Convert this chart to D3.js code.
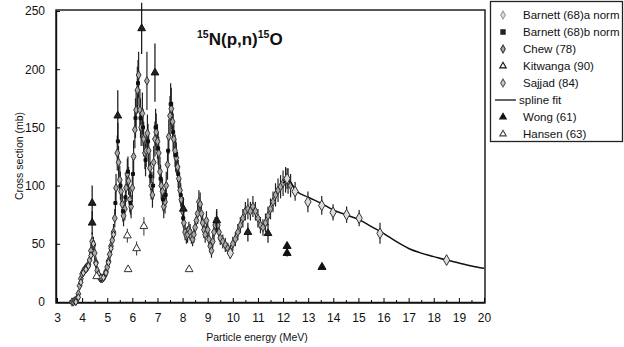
<!DOCTYPE html>
<html>
<head>
<meta charset="utf-8">
<script src="https://cdn.jsdelivr.net/npm/d3@7"></script>
<style>
  body { margin: 0; background: #fff; }
  text { font-family: "Liberation Sans", Arial, sans-serif; fill: #111; }
</style>
</head>
<body>
<svg id="chart" width="624" height="347"></svg>
<script>
// values: [energy (MeV), cross section (mb), error (mb)]
const barnettA = [
  [3.60, 0, 1], [3.65, 0, 1], [3.70, 1, 1], [3.75, 1, 1], [3.80, 3, 2], [3.85, 7, 3],
  [3.90, 14, 4], [3.95, 20, 4], [4.00, 24, 4], [4.05, 26, 4], [4.10, 28, 4], [4.15, 29, 4],
  [4.20, 30, 4], [4.25, 32, 5], [4.30, 36, 5], [4.35, 44, 6], [4.40, 52, 8], [4.45, 49, 7],
  [4.50, 42, 6], [4.55, 34, 5], [4.60, 27, 4], [4.65, 23, 4], [4.70, 21, 3], [4.75, 20, 3],
  [4.80, 20, 3], [4.85, 21, 3], [4.90, 23, 4], [4.95, 26, 4], [5.00, 30, 4], [5.05, 35, 5],
  [5.10, 41, 5], [5.15, 48, 6], [5.20, 53, 6], [5.25, 60, 7], [5.30, 72, 8], [5.35, 98, 12],
  [5.40, 128, 15], [5.45, 120, 14], [5.50, 105, 12], [5.55, 95, 11], [5.60, 84, 10], [5.65, 74, 9],
  [5.70, 80, 10], [5.75, 98, 12], [5.80, 110, 13], [5.85, 104, 12], [5.90, 88, 11], [5.95, 82, 10],
  [6.00, 98, 12], [6.05, 125, 14], [6.10, 148, 16], [6.15, 165, 18], [6.20, 182, 20], [6.25, 195, 20],
  [6.30, 165, 18], [6.35, 150, 16], [6.40, 162, 18], [6.45, 140, 15], [6.50, 128, 14], [6.55, 130, 14],
  [6.60, 145, 16], [6.65, 130, 14], [6.70, 115, 13], [6.75, 100, 12], [6.80, 92, 11], [6.85, 120, 14],
  [6.90, 140, 15], [6.95, 146, 16], [7.00, 138, 15], [7.05, 128, 14], [7.10, 112, 13], [7.15, 100, 12],
  [7.20, 95, 11], [7.25, 82, 10], [7.30, 86, 10], [7.35, 100, 12], [7.40, 118, 13], [7.45, 142, 15],
  [7.50, 160, 17], [7.55, 166, 18], [7.60, 155, 17], [7.65, 140, 15], [7.70, 130, 14], [7.75, 124, 13],
  [7.80, 116, 13], [7.85, 106, 12], [7.90, 96, 11], [7.95, 88, 10], [8.00, 78, 9], [8.05, 68, 8],
  [8.10, 60, 7], [8.15, 57, 7], [8.20, 58, 7], [8.25, 62, 7], [8.30, 60, 7], [8.35, 56, 6],
  [8.40, 54, 6], [8.45, 58, 7], [8.50, 64, 7], [8.55, 70, 8], [8.60, 76, 9], [8.65, 86, 10],
  [8.70, 84, 10], [8.75, 76, 9], [8.80, 68, 8], [8.85, 62, 7], [8.90, 58, 7], [8.95, 70, 8],
  [9.00, 62, 7], [9.05, 54, 6], [9.10, 48, 6], [9.15, 44, 6], [9.20, 52, 6], [9.25, 60, 7],
  [9.30, 66, 7], [9.35, 70, 8], [9.40, 66, 7], [9.45, 60, 7], [9.50, 55, 6], [9.60, 52, 6],
  [9.70, 49, 6], [9.80, 46, 5], [9.90, 44, 5], [10.00, 50, 6], [10.10, 54, 6], [10.20, 60, 7],
  [10.30, 66, 7], [10.40, 72, 8], [10.50, 78, 8], [10.60, 80, 9], [10.70, 78, 8], [10.80, 82, 9],
  [10.90, 78, 8], [11.00, 72, 8], [11.10, 66, 7], [11.20, 64, 7], [11.30, 68, 8], [11.40, 74, 8],
  [11.50, 80, 9], [11.60, 86, 9], [11.70, 92, 10], [11.80, 96, 10], [11.90, 99, 10], [12.00, 102, 11],
  [12.10, 105, 11], [12.20, 104, 11], [12.30, 100, 10], [6.58, 190, 25]
];
const barnettB = [
  [5.325, 85, 10], [5.425, 138, 16], [5.525, 100, 12], [5.625, 78, 9], [5.725, 90, 11], [5.825, 112, 13],
  [5.925, 85, 10], [6.025, 110, 13], [6.125, 158, 17], [6.225, 188, 20], [6.325, 158, 17], [6.425, 150, 16],
  [6.525, 122, 14], [6.625, 138, 15], [6.725, 108, 12], [6.825, 100, 12], [6.925, 150, 16], [7.025, 132, 14],
  [7.125, 106, 12], [7.225, 88, 10], [7.325, 92, 11], [7.425, 130, 14], [7.525, 170, 18], [7.625, 146, 16],
  [7.725, 126, 14], [7.825, 110, 12], [7.925, 92, 10], [8.025, 72, 8]
];
const chew = [
  [3.75, 0, 2], [3.85, 4, 2], [3.95, 17, 3], [4.05, 25, 3], [4.15, 28, 3], [4.25, 31, 3],
  [4.35, 40, 4], [4.45, 50, 5], [4.55, 33, 4], [4.65, 24, 3], [4.75, 21, 3], [4.85, 21, 3],
  [4.95, 25, 3], [5.05, 34, 4], [5.15, 46, 5], [5.25, 58, 6]
];
const kitwanga = [
  [4.40, 85, 15], [4.40, 68, 10], [5.42, 160, 22], [6.37, 235, 22], [6.90, 197, 25],
  [8.03, 80, 10], [9.36, 70, 10], [10.60, 60, 8], [11.40, 59, 8]
];
const sajjad = [
  [9.90, 42, 5], [12.16, 106, 9], [12.48, 95, 8], [12.99, 86, 9], [13.54, 83, 8],
  [13.99, 77, 7], [14.53, 75, 7], [15.03, 72, 7], [15.86, 59, 9], [18.51, 36, 4]
];
const splineFit = [
  [12.0, 102], [12.2, 105], [12.5, 96], [13.0, 90], [13.5, 85], [14.0, 79], [14.5, 75],
  [15.0, 71], [15.5, 65], [16.0, 59], [16.5, 52], [17.0, 46], [17.5, 42], [18.0, 39],
  [18.5, 36], [19.0, 33.5], [19.5, 31], [20.0, 29]
];
const wong = [[12.16, 48, 3], [12.16, 42, 3], [13.55, 30, 0]];
const hansen = [[4.58, 22, 0], [5.83, 28, 0], [5.80, 57, 6], [6.17, 46, 6], [6.46, 65, 8], [8.26, 28, 0]];

const xTicks = [3, 4, 5, 6, 7, 8, 9, 10, 11, 12, 13, 14, 15, 16, 17, 18, 19, 20];
const yTicks = [0, 50, 100, 150, 200, 250];
const legendNames = ['Barnett (68)a norm', 'Barnett (68)b norm', 'Chew (78)', 'Kitwanga (90)',
  'Sajjad (84)', 'spline fit', 'Wong (61)', 'Hansen (63)'];

const svg = d3.select('#chart');
const x = d3.scaleLinear().domain([3, 20]).range([57, 484]);
const y = d3.scaleLinear().domain([0, 250]).range([302, 11]);

// frame
svg.append('rect').attr('x', 56).attr('y', 10).attr('width', 429).attr('height', 293)
  .attr('fill', 'none').attr('stroke', '#111').attr('stroke-width', 1.4);

// axes (ticks point inward)
const xAxis = svg.append('g').attr('transform', 'translate(0,302)')
  .call(d3.axisBottom(x).tickValues(xTicks).tickSizeInner(-4).tickSizeOuter(0).tickPadding(11));
svg.append('g').attr('transform', 'translate(0,302)')
  .call(d3.axisBottom(x).tickValues(d3.range(3.5, 20, 1)).tickFormat('').tickSizeInner(-2).tickSizeOuter(0))
  .select('.domain').remove();
const yAxis = svg.append('g').attr('transform', 'translate(56,0)')
  .call(d3.axisLeft(y).tickValues(yTicks).tickSizeInner(-4).tickSizeOuter(0).tickPadding(11));
[xAxis, yAxis].forEach(a => {
  a.select('.domain').attr('stroke', '#111').attr('stroke-width', 1.4);
  a.selectAll('text').attr('font-size', 12).attr('font-family', '"Liberation Sans", Arial, sans-serif').attr('fill', '#111');
});

svg.append('text').attr('x', 257).attr('y', 341).attr('text-anchor', 'middle')
  .attr('font-size', 10.5).text('Particle energy (MeV)');
svg.append('text').attr('transform', 'translate(23,156) rotate(-90)').attr('text-anchor', 'middle')
  .attr('font-size', 10.5).text('Cross section (mb)');

// title with superscripts
const title = svg.append('text').attr('x', 197).attr('y', 45).attr('font-size', 17).attr('font-weight', 'bold');
title.append('tspan').attr('font-size', 10.5).attr('dy', -7).text('15');
title.append('tspan').attr('dy', 7).text('N(p,n)');
title.append('tspan').attr('font-size', 10.5).attr('dy', -7).text('15');
title.append('tspan').attr('dy', 7).text('O');

const plot = svg.append('g');

function errorBars(data, color, w) {
  plot.append('g').selectAll('line').data(data.filter(d => d[2] > 0)).join('line')
    .attr('x1', d => x(d[0])).attr('x2', d => x(d[0]))
    .attr('y1', d => y(d[1] - d[2])).attr('y2', d => y(d[1] + d[2]))
    .attr('stroke', color).attr('stroke-width', w || 1);
}
function markers(data, type, size, fill, stroke) {
  plot.append('g').selectAll('path').data(data).join('path')
    .attr('transform', d => `translate(${x(d[0])},${y(d[1])})`)
    .attr('d', d3.symbol().type(type).size(size))
    .attr('fill', fill).attr('stroke', stroke).attr('stroke-width', 1);
}

errorBars(barnettA, '#222', 1.2);
errorBars(barnettB, '#222', 1.2);
errorBars(chew, '#222');
markers(barnettA, d3.symbolDiamond, 20, '#aaa', '#333');
markers(barnettB, d3.symbolSquare, 9, '#111', '#111');
markers(chew, d3.symbolDiamond, 16, '#ccc', '#222');

plot.append('path').datum(splineFit)
  .attr('d', d3.line().x(d => x(d[0])).y(d => y(d[1])).curve(d3.curveMonotoneX))
  .attr('fill', 'none').attr('stroke', '#111').attr('stroke-width', 1.5);

errorBars(sajjad, '#222', 1.2);
markers(sajjad, d3.symbolDiamond, 34, '#ddd', '#333');
errorBars(kitwanga, '#111', 1.2);
markers(kitwanga, d3.symbolTriangle, 26, '#222', '#111');
errorBars(wong, '#111');
markers(wong, d3.symbolTriangle, 28, '#111', '#111');
errorBars(hansen, '#333');
markers(hansen, d3.symbolTriangle, 26, '#fff', '#333');

// legend
const lg = svg.append('g');
lg.append('rect').attr('x', 490.5).attr('y', 1.5).attr('width', 132).attr('height', 140)
  .attr('fill', '#fff').attr('stroke', '#222').attr('stroke-width', 1.3);
const legendSyms = [
  [d3.symbolDiamond, '#ddd', '#999'], [d3.symbolSquare, '#222', '#222'], [d3.symbolDiamond, '#aaa', '#333'],
  [d3.symbolTriangle, '#fff', '#111'], [d3.symbolDiamond, '#ccc', '#555'], null,
  [d3.symbolTriangle, '#111', '#111'], [d3.symbolTriangle, '#fff', '#444']
];
const ly = d3.scaleLinear().domain([0, 7]).range([15, 134]);
legendNames.forEach((name, i) => {
  const yy = ly(i);
  if (legendSyms[i]) {
    const s = legendSyms[i];
    lg.append('path').attr('transform', `translate(503,${yy})`)
      .attr('d', d3.symbol().type(s[0]).size(18)).attr('fill', s[1]).attr('stroke', s[2]).attr('stroke-width', 1.1);
    lg.append('text').attr('x', 523).attr('y', yy + 4).attr('font-size', 11.5).text(name);
  } else {
    lg.append('line').attr('x1', 495).attr('x2', 516).attr('y1', yy).attr('y2', yy)
      .attr('stroke', '#111').attr('stroke-width', 1.3);
    lg.append('text').attr('x', 519).attr('y', yy + 4).attr('font-size', 11.5).text(name);
  }
});
</script>
</body>
</html>
